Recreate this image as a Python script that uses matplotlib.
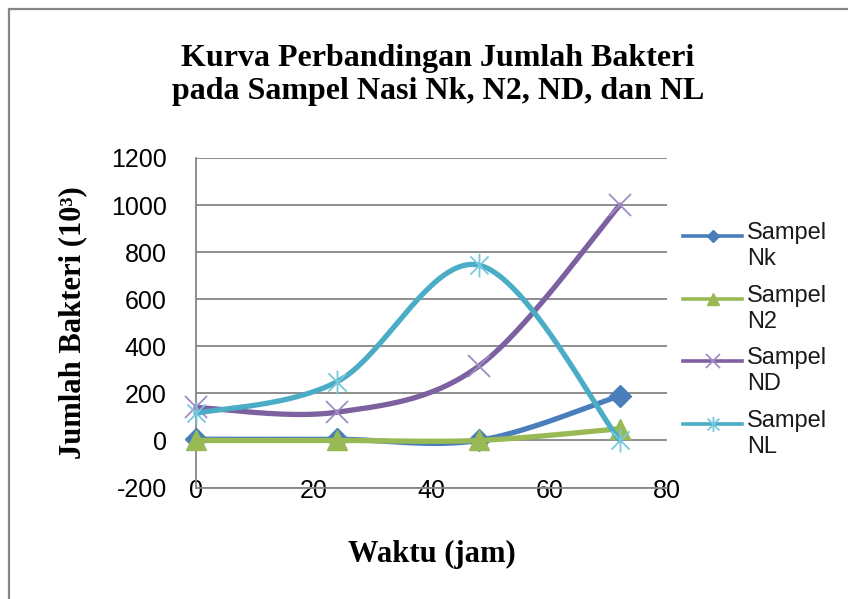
import numpy as np
import matplotlib
matplotlib.use("Agg")
import matplotlib.pyplot as plt
from matplotlib.lines import Line2D
from matplotlib.path import Path
from matplotlib.patches import Rectangle

# ---- data ----
waktu = [0, 24, 48, 72]
series_names = ["Sampel\nNk", "Sampel\nN2", "Sampel\nND", "Sampel\nNL"]
nk = [5, 5, 0, 190]
n2 = [0, 0, 0, 50]
nd = [140, 120, 315, 1000]
nl = [115, 250, 745, 0]
x_ticks = [0, 20, 40, 60, 80]
y_ticks = [-200, 0, 200, 400, 600, 800, 1000, 1200]

title = "Kurva Perbandingan Jumlah Bakteri\npada Sampel Nasi Nk, N2, ND, dan NL"
xlabel = "Waktu (jam)"
ylabel = "Jumlah Bakteri (10³)"

W, H = 848, 599
fig = plt.figure(figsize=(W / 100, H / 100), dpi=100)
fig.patch.set_facecolor("white")

# chart border (Excel chart area)
fig.add_artist(Rectangle((8.5 / W, -0.1), 2.0, 1.1 - 9.5 / H, transform=fig.transFigure,
                         fill=False, edgecolor="#868686", linewidth=1.6))

ax = fig.add_axes([196 / W, 1 - 487.5 / H, 471 / W, 329.5 / H])

def excel_smooth(x, y, n=80):
    pts = np.column_stack([x, y]).astype(float)
    out = [pts[:1]]
    for i in range(len(pts) - 1):
        p0 = pts[i - 1] if i > 0 else pts[i]
        p1 = pts[i]
        p2 = pts[i + 1]
        p3 = pts[i + 2] if i + 2 < len(pts) else pts[i + 1]
        c1 = p1 + (p2 - p0) / 6.0
        c2 = p2 - (p3 - p1) / 6.0
        t = np.linspace(0, 1, n)[1:, None]
        seg = ((1 - t) ** 3) * p1 + 3 * ((1 - t) ** 2) * t * c1 + 3 * (1 - t) * (t ** 2) * c2 + (t ** 3) * p2
        out.append(seg)
    return np.vstack(out)

star_path = Path([(-1, -1), (1, 1), (-1, 1), (1, -1), (0, -1.3), (0, 1.3)],
                 [Path.MOVETO, Path.LINETO, Path.MOVETO, Path.LINETO, Path.MOVETO, Path.LINETO])

styles = [
    dict(data=nk, color="#4A7EBB", marker="D", ms=11, mfc="#4A7EBB", mec="#4A7EBB", mew=1.0, lms=6.5),
    dict(data=n2, color="#98B954", marker="^", ms=15, mfc="#98B954", mec="#98B954", mew=1.0, lms=9),
    dict(data=nd, color="#7D60A0", marker="x", ms=16, mfc="none", mec="#A08CC2", mew=1.3, lms=10),
    dict(data=nl, color="#4BACC6", marker=star_path, ms=17, mfc="none", mec="#78C8DD", mew=1.3, lms=11),
]

z = 3
for s in styles:
    c = excel_smooth(waktu, s["data"])
    ax.plot(c[:, 0], c[:, 1], color=s["color"], lw=3.8, solid_capstyle="round",
            solid_joinstyle="round", zorder=z, clip_on=False)
    ax.plot(waktu, s["data"], linestyle="none", marker=s["marker"], ms=s["ms"],
            mfc=s["mfc"], mec=s["mec"], mew=s["mew"], zorder=z + 0.5, clip_on=False)
    z += 1

ax.set_xlim(0, 80)
ax.set_ylim(-200, 1200)
ax.set_xticks(x_ticks)
ax.set_yticks(y_ticks)
ax.set_xticklabels([str(v) for v in x_ticks])
ax.set_yticklabels([str(v) for v in y_ticks])
ax.yaxis.grid(True, color="#868686", linewidth=1.3)
ax.set_axisbelow(True)
for sp in ["top", "right"]:
    ax.spines[sp].set_visible(False)
for sp in ["left", "bottom"]:
    ax.spines[sp].set_color("#868686")
    ax.spines[sp].set_linewidth(1.3)
ax.tick_params(axis="both", length=0, labelsize=18, colors="#000000")
ax.tick_params(axis="y", pad=21)
ax.tick_params(axis="x", pad=-6)
for lab in ax.get_xticklabels() + ax.get_yticklabels():
    lab.set_fontfamily("Liberation Sans")

serif = "Liberation Serif"
ax.set_ylabel(ylabel, fontfamily=serif, fontweight="bold", fontsize=22)
ax.yaxis.set_label_coords((87 - 196) / 471, 0.5)
ax.set_xlabel(xlabel, fontfamily=serif, fontweight="bold", fontsize=22)
ax.xaxis.set_label_coords(0.5, -(540 - 487.5) / 329.5)

fig.text(438 / W, 1 - 75 / H, title, ha="center", va="center", fontfamily=serif,
         fontweight="bold", fontsize=23, linespacing=1.2)

# legend drawn manually to the right
leg_y = [236, 299, 361, 424]
for s, name, yp in zip(styles, series_names, leg_y):
    yf = 1 - yp / H
    fig.add_artist(Line2D([683 / W, 742 / W], [yf, yf], transform=fig.transFigure,
                          color=s["color"], lw=2.6))
    fig.add_artist(Line2D([712.5 / W], [yf], transform=fig.transFigure, linestyle="none",
                          marker=s["marker"], ms=s["lms"], mfc=s["mfc"], mec=s["mec"],
                          mew=s["mew"]))
    fig.text(747 / W, 1 - (yp - 14) / H, name, ha="left", va="top", fontfamily="Liberation Sans",
             fontsize=17, linespacing=1.25, color="#1a1a1a")

fig.savefig("out.png", dpi=100, facecolor="white")
